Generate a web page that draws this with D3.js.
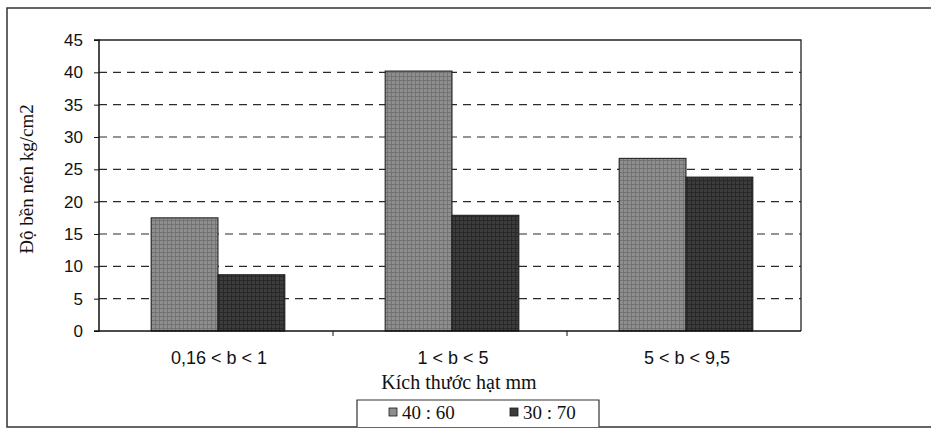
<!DOCTYPE html>
<html>
<head>
<meta charset="utf-8">
<script src="https://cdn.jsdelivr.net/npm/d3@7"></script>
<style>
  body { margin: 0; background: #fff; }
  svg { display: block; }
</style>
</head>
<body>
<svg width="931" height="429"></svg>
<script>
const categories = ['0,16 < b < 1', '1 < b < 5', '5 < b < 9,5'];
const seriesNames = ['40 : 60', '30 : 70'];
const values4060 = [17.5, 40.2, 26.7];
const values3070 = [8.7, 17.9, 23.8];
const yTicks = [0, 5, 10, 15, 20, 25, 30, 35, 40, 45];

const series = [values4060, values3070];
const colors = ['#8e8e8e', '#3c3c3c'];
const texture = ['#6e6e6e', '#262626'];

const svg = d3.select('svg');
const margin = {left: 99, right: 130, top: 40, bottom: 98};
const width = 931 - margin.left - margin.right;
const height = 429 - margin.top - margin.bottom;

// textures to look like the scanned hatching
const defs = svg.append('defs');
colors.forEach((c, i) => {
  const p = defs.append('pattern')
    .attr('id', 'tex' + i)
    .attr('width', 4).attr('height', 4)
    .attr('patternUnits', 'userSpaceOnUse');
  p.append('rect').attr('width', 4).attr('height', 4).attr('fill', c);
  p.append('path').attr('d', 'M0,0.5H4M0.5,0V4')
    .attr('stroke', texture[i]).attr('stroke-width', 0.8);
});

// outer frame
svg.append('path')
  .attr('d', 'M935,8H7V427H935')
  .attr('fill', 'none').attr('stroke', '#333').attr('stroke-width', 1.5);

const g = svg.append('g').attr('transform', `translate(${margin.left},${margin.top})`);

const x = d3.scaleBand().domain(categories).range([0, width]);
const xInner = d3.scaleBand().domain(d3.range(series.length))
  .range([0, x.bandwidth()]).paddingOuter(0.75);
const y = d3.scaleLinear().domain([0, 45]).range([height, 0]);

// dashed grid
g.append('g')
  .selectAll('line')
  .data(yTicks.filter(t => t > 0 && t < 45))
  .enter()
  .append('line')
  .attr('x1', 0).attr('x2', width)
  .attr('y1', d => y(d)).attr('y2', d => y(d))
  .attr('stroke', '#2a2a2a')
  .attr('stroke-width', 1.2)
  .attr('stroke-dasharray', '8,6');

// plot area border (top & right)
g.append('path')
  .attr('d', `M0,0H${width}V${height}`)
  .attr('fill', 'none').attr('stroke', '#222').attr('stroke-width', 1.3);

// bars
series.forEach((vals, si) => {
  g.append('g')
    .selectAll('rect')
    .data(vals)
    .enter()
    .append('rect')
    .attr('x', (d, i) => x(categories[i]) + xInner(si) + 2)
    .attr('width', xInner.bandwidth())
    .attr('y', d => y(d))
    .attr('height', d => height - y(d))
    .attr('fill', `url(#tex${si})`)
    .attr('stroke', '#1a1a1a')
    .attr('stroke-width', 1);
});

// y axis
const yAxis = g.append('g')
  .call(d3.axisLeft(y).tickValues(yTicks).tickSize(5).tickPadding(11));
yAxis.select('.domain').attr('d', `M-5,${height}H0V0H-5`).attr('stroke', '#111').attr('stroke-width', 1.5);
yAxis.selectAll('.tick line').attr('stroke', '#111');
yAxis.selectAll('text')
  .attr('font-family', 'Liberation Sans, Arial, sans-serif')
  .attr('font-size', 17)
  .attr('fill', '#111');

// x axis with ticks at category boundaries
const xAxis = g.append('g').attr('transform', `translate(0,${height})`);
xAxis.append('line')
  .attr('x1', 0).attr('x2', width)
  .attr('stroke', '#111').attr('stroke-width', 1.5);
xAxis.selectAll('.bt')
  .data(categories.slice(1))
  .enter()
  .append('line')
  .attr('x1', d => x(d)).attr('x2', d => x(d))
  .attr('y1', 0).attr('y2', 5)
  .attr('stroke', '#111');
xAxis.selectAll('text')
  .data(categories)
  .enter()
  .append('text')
  .attr('x', d => x(d) + x.bandwidth() / 2 + 3)
  .attr('y', 33)
  .attr('text-anchor', 'middle')
  .attr('font-family', 'Liberation Sans, Arial, sans-serif')
  .attr('font-size', 18)
  .attr('fill', '#111')
  .text(d => d);

// axis titles
svg.append('text')
  .attr('x', 459).attr('y', 389)
  .attr('text-anchor', 'middle')
  .attr('font-family', 'Liberation Serif, Times New Roman, serif')
  .attr('font-size', 20)
  .attr('fill', '#111')
  .text('Kích thước hạt mm');

svg.append('text')
  .attr('transform', 'translate(33,179) rotate(-90)')
  .attr('text-anchor', 'middle')
  .attr('font-family', 'Liberation Serif, Times New Roman, serif')
  .attr('font-size', 19)
  .attr('fill', '#111')
  .text('Độ bền nén kg/cm2');

// legend
const legend = svg.append('g');
legend.append('path')
  .attr('d', 'M357,427V400H599V427')
  .attr('fill', '#fff').attr('stroke', '#333').attr('stroke-width', 1.2);
const legX = [389, 510];
seriesNames.forEach((name, i) => {
  legend.append('rect')
    .attr('x', legX[i]).attr('y', 408)
    .attr('width', 8).attr('height', 8)
    .attr('fill', colors[i])
    .attr('stroke', '#1a1a1a').attr('stroke-width', 0.8);
  legend.append('text')
    .attr('x', legX[i] + 13).attr('y', 419)
    .attr('font-family', 'Liberation Serif, Times New Roman, serif')
    .attr('font-size', 19)
    .attr('fill', '#111')
    .text(name);
});
</script>
</body>
</html>
